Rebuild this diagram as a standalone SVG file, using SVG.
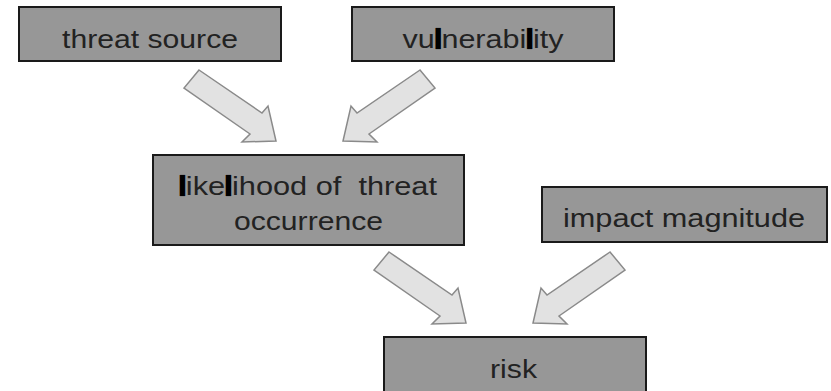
<svg xmlns="http://www.w3.org/2000/svg" width="831" height="391" viewBox="0 0 831 391">
<style>
.box{fill:#979797;stroke:#1a1a1a;stroke-width:2}
.lbl{font-family:"Liberation Sans",Arial,sans-serif;font-size:25px;fill:#222;text-anchor:middle}
.bar{stroke:#000;stroke-width:2.2;fill:#000}
.arr{fill:#e2e2e2;stroke:#8a8a8a;stroke-width:1.5;stroke-linejoin:miter}
</style>
<rect width="831" height="391" fill="#fff"/>
<g id="connectors">
<polygon class="arr" points="199,70 262,113 268,106 276,141 242,142 250,134 184,88"/>
<polygon class="arr" points="420,70 357,113 351,106 343,141 377,142 369,134 435,88"/>
<polygon class="arr" points="389,252 452,295 458,288 466,323 432,324 440,316 374,270"/>
<polygon class="arr" points="610,252 547,295 541,288 533,323 567,324 559,316 625,270"/>
</g>
<g id="threat-source">
<rect class="box" x="19" y="7" width="262" height="54"/>
<text class="lbl" x="150" y="48" textLength="176" lengthAdjust="spacingAndGlyphs">threat source</text>
</g>
<g id="vulnerability">
<rect class="box" x="352" y="7" width="262" height="54"/>
<text class="lbl" x="483" y="48" textLength="161" lengthAdjust="spacingAndGlyphs">vu<tspan class="bar">l</tspan>nerabi<tspan class="bar">l</tspan>ity</text>
</g>
<g id="likelihood">
<rect class="box" x="153" y="155" width="311" height="90"/>
<text class="lbl" x="308" y="195" textLength="258" lengthAdjust="spacingAndGlyphs" xml:space="preserve"><tspan class="bar">l</tspan>ike<tspan class="bar">l</tspan>ihood of  threat</text>
<text class="lbl" x="308.5" y="230" textLength="149" lengthAdjust="spacingAndGlyphs">occurrence</text>
</g>
<g id="impact-magnitude">
<rect class="box" x="542" y="187" width="285" height="55"/>
<text class="lbl" x="684" y="227" textLength="242" lengthAdjust="spacingAndGlyphs">impact magnitude</text>
</g>
<g id="risk">
<rect class="box" x="384" y="337" width="262" height="70"/>
<text class="lbl" x="513.5" y="378" textLength="47" lengthAdjust="spacingAndGlyphs">risk</text>
</g>
</svg>
